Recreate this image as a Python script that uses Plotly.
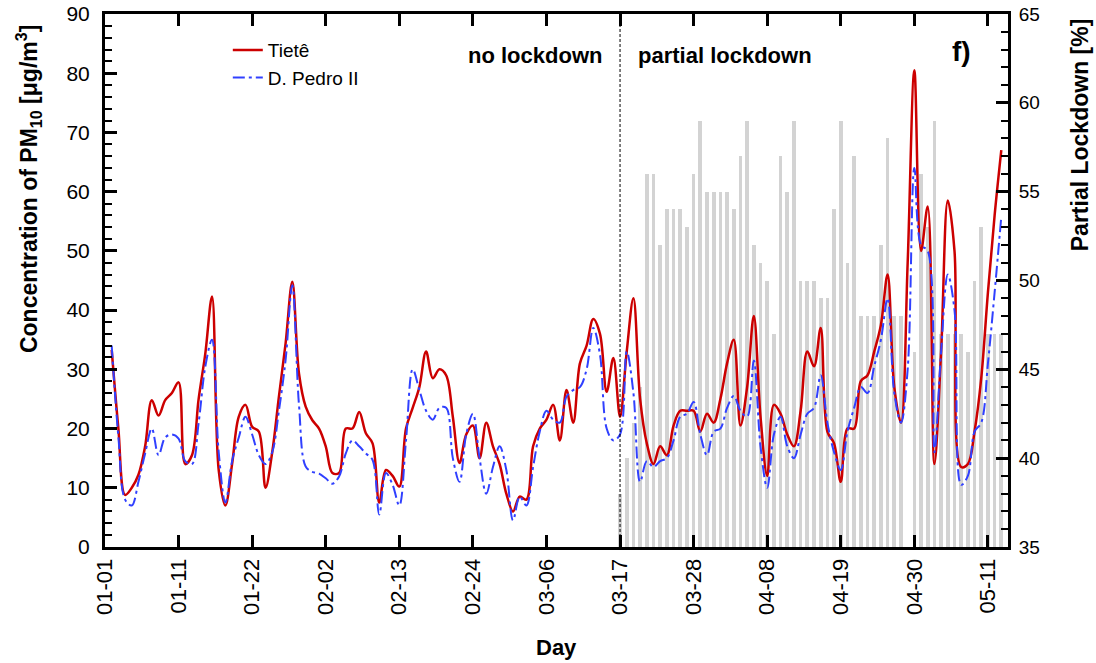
import plotly.graph_objects as go

# ---------------- data ----------------
days = list(range(1, 135))  # day of year (2020)

tiete = [
    33.3, 20, 8.8, 10, 12.2, 17, 24.8, 22.2, 24.8, 26,
    27.8, 14, 15.5, 25, 32.7, 42.3, 13, 7, 14, 22,
    24, 20.3, 19.5, 10, 16, 25.4, 34.4, 44.8, 29.3, 23.7,
    21.4, 20, 17, 12.5, 12.5, 20, 20, 22.8, 19.2, 17.5,
    7.5, 13, 12, 10.2, 20, 23.5, 27, 33, 28.5, 30,
    29, 22, 14.2, 19, 20.5, 15, 21, 17, 14, 9,
    6, 8.5, 8, 17, 20, 21.5, 24, 18, 26.5, 21,
    31, 34, 38.5, 36, 26.2, 31.9, 22, 33, 42, 25,
    17.5, 14, 17, 15.5, 20.5, 23, 23, 23, 19.5, 22.5,
    21, 25, 31, 35, 20.5, 27, 39, 22, 12, 24,
    22.5, 19, 17, 23, 33, 30.5, 37, 19.5, 17.5, 11,
    20, 20, 28, 29, 33, 37.5, 46, 27, 21, 48,
    80.5, 50, 57.5, 14, 33, 58.5, 50, 13.5, 14, 19.5,
    28.5, 43, 56, 67,
]

dpedro = [
    34, 18.6, 8, 7, 11, 15.8, 20, 15.5, 18.5, 19,
    18.3, 14.5, 14, 21, 30.5, 35, 16, 7.5, 14.5, 18.5,
    22, 19, 15.5, 14, 16, 23, 31.6, 44.2, 24, 13.6,
    12.7, 12.4, 11.6, 10.7, 11.9, 15.8, 18, 17, 15.8, 14.7,
    5.5, 12.5, 10.5, 7, 18, 30, 26.5, 23, 21.5, 23.5,
    23.5, 15, 11, 19, 22.5, 15, 9, 13.5, 17, 13,
    4.5, 8.5, 7, 13.5, 19.5, 23, 21.5, 21, 25.4, 26.5,
    27, 30, 37, 32.5, 20, 18, 19, 33, 26, 11,
    14.5, 13.5, 14.5, 15, 18, 22, 22.5, 24.5, 19, 15.5,
    19.5, 20, 23.5, 25.5, 23, 22, 31.5, 17, 10, 19,
    22, 17, 15, 19, 22.5, 23.5, 29, 21, 16, 13,
    19.5, 23.5, 27, 26, 30.5, 35, 42, 26, 21, 30,
    64, 51, 50, 16, 33, 46, 40, 10.5, 12, 19.5,
    21, 31, 43, 55.8,
]

lock_days = list(range(77, 135))
lockdown = [
    38, 40, 42, 44, 56, 56, 52, 54, 54, 54,
    53, 56, 59, 55, 55, 55, 55, 54, 57, 59,
    52, 51, 50, 47, 57, 55, 59, 50, 50, 50,
    49, 49, 54, 59, 51, 57, 48, 48, 48, 52,
    58, 48, 48, None, 46, 56, 53, 59, 47, 47,
    47, 47, 46, 50, 53, 47, 47, 47,
]

tick_days = list(range(0, 133, 11))
tick_labels = ["01-01", "01-11", "01-22", "02-02", "02-13", "02-24", "03-06",
               "03-17", "03-28", "04-08", "04-19", "04-30", "05-11"]

lockdown_start = 77

# ---------------- figure ----------------
FONT = "Liberation Sans, Arial, Helvetica, sans-serif"

fig = go.Figure()
fig.add_trace(go.Bar(
    x=lock_days, y=lockdown, yaxis="y", name="Partial lockdown",
    marker=dict(color="#d3d3d3", line=dict(width=0)), width=0.55,
    showlegend=False, hoverinfo="x+y",
))
fig.add_trace(go.Scatter(
    x=days, y=tiete, yaxis="y2", mode="lines", name="Tietê",
    line=dict(color="#cc0000", width=2.5, shape="spline", smoothing=1.0),
))
fig.add_trace(go.Scatter(
    x=days, y=dpedro, yaxis="y2", mode="lines", name="D. Pedro II",
    line=dict(color="#3040ff", width=2, shape="spline", smoothing=1.0,
              dash="12px,4px,3px,4px"),
))

axis_common = dict(showgrid=False, zeroline=False, showline=True, linewidth=3,
                   linecolor="black", ticks="inside", tickwidth=3,
                   tickcolor="black", ticklen=12, automargin=False)


def label(text, x, y, size=22, angle=0):
    return dict(text=text, xref="paper", yref="paper", x=x, y=y,
                xanchor="center", yanchor="middle", textangle=angle,
                showarrow=False, font=dict(size=size, family=FONT, color="black"))


fig.update_layout(
    width=1096, height=663,
    margin=dict(l=105, r=88, t=14, b=116, autoexpand=False),
    paper_bgcolor="white", plot_bgcolor="white",
    font=dict(family=FONT, color="black", size=20),
    bargap=0,
    xaxis=dict(range=[0, 135], tickmode="array", tickvals=tick_days,
               ticktext=tick_labels, tickangle=-90, mirror="ticks",
               tickfont=dict(size=22), **axis_common),
    yaxis=dict(range=[35, 65], side="right", tickmode="linear", tick0=35, dtick=5,
               tickfont=dict(size=19), ticklabelstandoff=4,
               minor=dict(dtick=1, ticks="inside", ticklen=7, tickwidth=2,
                          tickcolor="black"),
               **axis_common),
    yaxis2=dict(range=[0, 90], overlaying="y", side="left", tickmode="linear",
                tick0=0, dtick=10, tickfont=dict(size=21), ticklabelstandoff=8,
                minor=dict(dtick=2, ticks="inside", ticklen=7, tickwidth=2,
                           tickcolor="black"),
                **axis_common),
    legend=dict(x=0.136, y=0.968, xanchor="left", yanchor="top",
                bgcolor="rgba(0,0,0,0)", font=dict(size=19), tracegroupgap=0),
    shapes=[dict(type="line", xref="x", yref="paper", x0=lockdown_start,
                 x1=lockdown_start, y0=0, y1=1,
                 line=dict(color="black", width=1, dash="3px,2px"))],
    annotations=[
        label("<b>no lockdown</b>", 0.476, 0.923),
        label("<b>partial lockdown</b>", 0.6866, 0.923),
        label("<b>f)</b>", 0.949, 0.929, size=28),
        label("<b>Day</b>", 0.5, -0.188),
        label("<b>Concentration of PM<sub>10</sub> [μg/m<sup>3</sup>]</b>",
              -0.085, 0.672, size=23, angle=-90),
        label("<b>Partial Lockdown [%]</b>", 1.08, 0.773, size=23, angle=-90),
    ],
)

fig.write_html("out.html")
